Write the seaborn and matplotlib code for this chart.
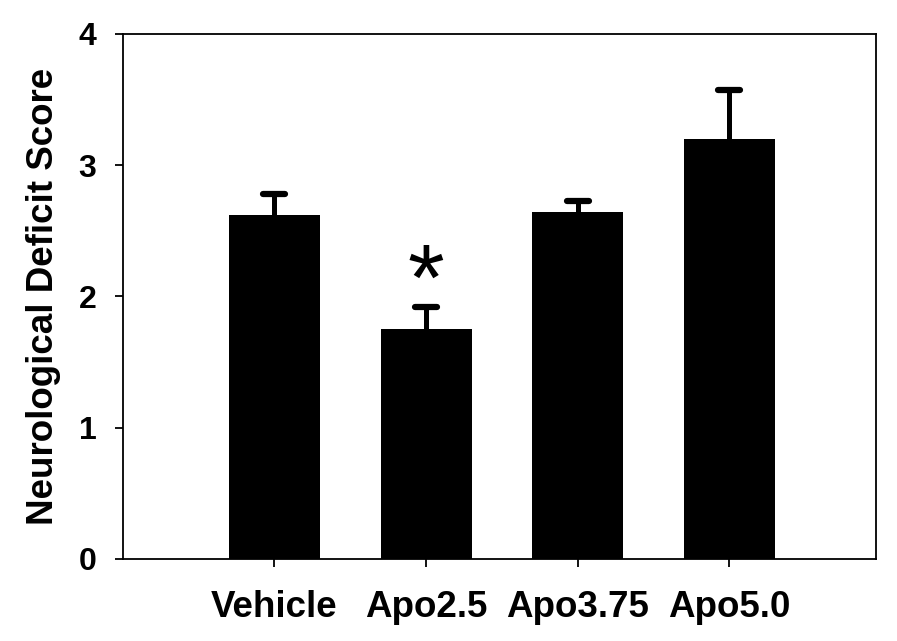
import matplotlib
matplotlib.use("Agg")
import matplotlib.pyplot as plt
from matplotlib.markers import MarkerStyle
import seaborn as sns
import pandas as pd

# Werte
groups = ["Vehicle", "Apo2.5", "Apo3.75", "Apo5.0"]
means = [2.62, 1.75, 2.64, 3.20]
sems = [0.157, 0.166, 0.091, 0.373]
signif = ["", "*", "", ""]

df = pd.DataFrame({"group": groups, "score": means})

sns.set_style("ticks")
plt.rcParams["font.family"] = ["Liberation Sans", "DejaVu Sans"]
plt.rcParams["font.weight"] = "bold"
plt.rcParams["text.color"] = "black"
plt.rcParams["axes.labelcolor"] = "black"
plt.rcParams["xtick.color"] = "black"
plt.rcParams["ytick.color"] = "black"

fig = plt.figure(figsize=(8.97, 6.41), dpi=100)
ax = fig.add_axes([0.137, 0.128, 0.84, 0.819])

sns.barplot(data=df, x="group", y="score", color="black", saturation=1,
            width=0.6, errorbar=None, edgecolor="none", ax=ax)

# nur obere Fehlerbalken
_, caps, _ = ax.errorbar(range(len(groups)), means, yerr=[[0] * len(sems), sems],
                         fmt="none", ecolor="black", elinewidth=3.6,
                         capsize=8, capthick=4.5, zorder=3)
caps[0].set_visible(False)  # untere Kappe weg
for c in caps:
    c.set_marker(MarkerStyle("_", capstyle="round"))

for i, s in enumerate(signif):
    if s:
        ax.text(i, means[i] + sems[i] + 0.17, s, ha="center", va="center",
                fontsize=68, fontweight="normal")

ax.set_xlim(-1.0, 3.97)
ax.set_ylim(0, 4)
ax.set_yticks([0, 1, 2, 3, 4])
ax.set_xlabel("")
ax.set_ylabel("Neurological Deficit Score", fontsize=26.5, fontweight="bold", labelpad=13)
ax.tick_params(axis="x", labelsize=26.5, length=6, width=1.3, pad=16, direction="out")
ax.tick_params(axis="y", labelsize=23, length=6, width=1.3, pad=13, direction="out")
for lab in ax.get_xticklabels() + ax.get_yticklabels():
    lab.set_fontweight("bold")
for sp in ax.spines.values():
    sp.set_visible(True)
    sp.set_linewidth(1.3)
    sp.set_color("black")

fig.savefig("out.png", dpi=100)
